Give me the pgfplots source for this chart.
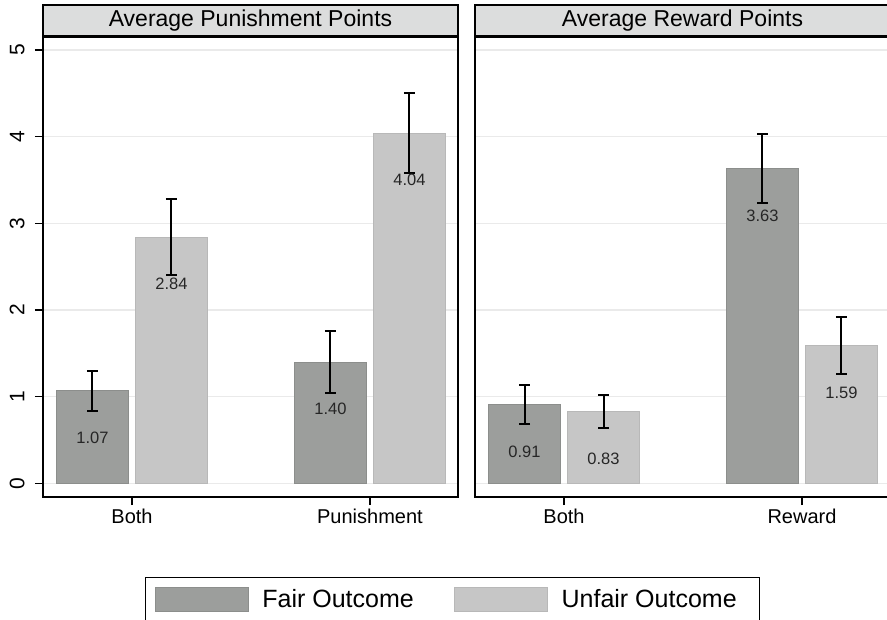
\documentclass[border=0pt]{standalone}
\usepackage{fontspec}
\setmainfont{Liberation Sans}
\usepackage{pgfplots}
\pgfplotsset{compat=1.18}
\definecolor{fairgray}{HTML}{9C9E9C}
\definecolor{fairedge}{HTML}{8C8E8C}
\definecolor{unfairgray}{HTML}{C6C6C6}
\definecolor{unfairedge}{HTML}{B8B8B8}
\definecolor{stripgray}{HTML}{DCDDDD}
\definecolor{gridgray}{HTML}{EAEAEA}

\pgfplotsset{
  panel/.style={
    ybar=7pt, bar width=72pt,
    scale only axis, width=415pt, height=460pt,
    xmin=-0.374, xmax=1.37,
    ymin=-0.158, ymax=5.151,
    xtick={0,1}, ytick={0,1,2,3,4,5},
    xtick pos=bottom, ytick pos=left,
    ymajorgrids, grid style={gridgray, line width=1.2pt},
    tick align=outside, major tick length=8pt,
    major tick style={black, line width=1.2pt},
    axis line style={black, line width=1.5pt},
    xticklabel style={font=\fontsize{20}{20}\selectfont},
    yticklabel style={font=\fontsize{21}{21}\selectfont, rotate=90, anchor=south},
    yticklabel shift=7pt,
    /pgf/number format/assume math mode=true,
    every axis title shift=0pt,
    title style={at={(0.5,1)}, anchor=south, yshift=0pt, draw=black, line width=1.5pt,
      fill=stripgray, minimum width=415pt, minimum height=31pt, inner sep=0pt,
      font=\fontsize{23}{23}\selectfont},
    nodes near coords={\pgfmathprintnumber[fixed, fixed zerofill, precision=2]{\pgfplotspointmeta}},
    nodes near coords align={center},
    every node near coord/.append style={font=\fontsize{16.5}{16.5}\selectfont, text=black!85, yshift=-47pt},
    error bars/y dir=both, error bars/y explicit,
    error bars/error mark=-,
    error bars/error mark options={black, line width=2pt, mark size=5.5pt, rotate=90},
    error bars/error bar style={black, line width=2pt},
    clip=false,
  },
  fair/.style={fill=fairgray, draw=fairedge, line width=0.8pt},
  unfair/.style={fill=unfairgray, draw=unfairedge, line width=0.8pt},
}

\begin{document}
\begin{tikzpicture}
  % left panel: punishment
  \begin{axis}[panel,
      at={(43pt,-497pt)}, anchor=south west,
      title={Average Punishment Points},
      xticklabels={Both, Punishment},
      legend image code/.code={\draw[#1, line width=0.8pt] (0pt,-12pt) rectangle (93pt,12pt);},
      legend style={at={(0.2458,-0.1739)}, anchor=north west, draw=black, line width=1.2pt,
        font=\fontsize{25}{25}\selectfont, inner xsep=9pt, inner ysep=9pt,
        legend columns=2,
        /tikz/every odd column/.append style={column sep=12pt},
        /tikz/every even column/.append style={column sep=38pt}},
    ]
    \addplot[fair] coordinates {
      (0,1.07) +- (0,0.23)
      (1,1.40) +- (0,0.355)
    };
    \addplot[unfair] coordinates {
      (0,2.84) +- (0,0.44)
      (1,4.04) +- (0,0.46)
    };
    \legend{Fair Outcome, Unfair Outcome\kern12pt\null}
  \end{axis}
  % right panel: reward
  \begin{axis}[panel,
      at={(475pt,-497pt)}, anchor=south west,
      title={Average Reward Points},
      xticklabels={Both, Reward},
      yticklabels={}, ytick style={draw=none},
    ]
    \addplot[fair] coordinates {
      (0,0.91) +- (0,0.227)
      (1,3.63) +- (0,0.40)
    };
    \addplot[unfair] coordinates {
      (0,0.83) +- (0,0.19)
      (1,1.59) +- (0,0.325)
    };
  \end{axis}
  \pgfresetboundingbox
  \useasboundingbox (0pt,0pt) rectangle (887pt,-620pt);
\end{tikzpicture}
\end{document}
